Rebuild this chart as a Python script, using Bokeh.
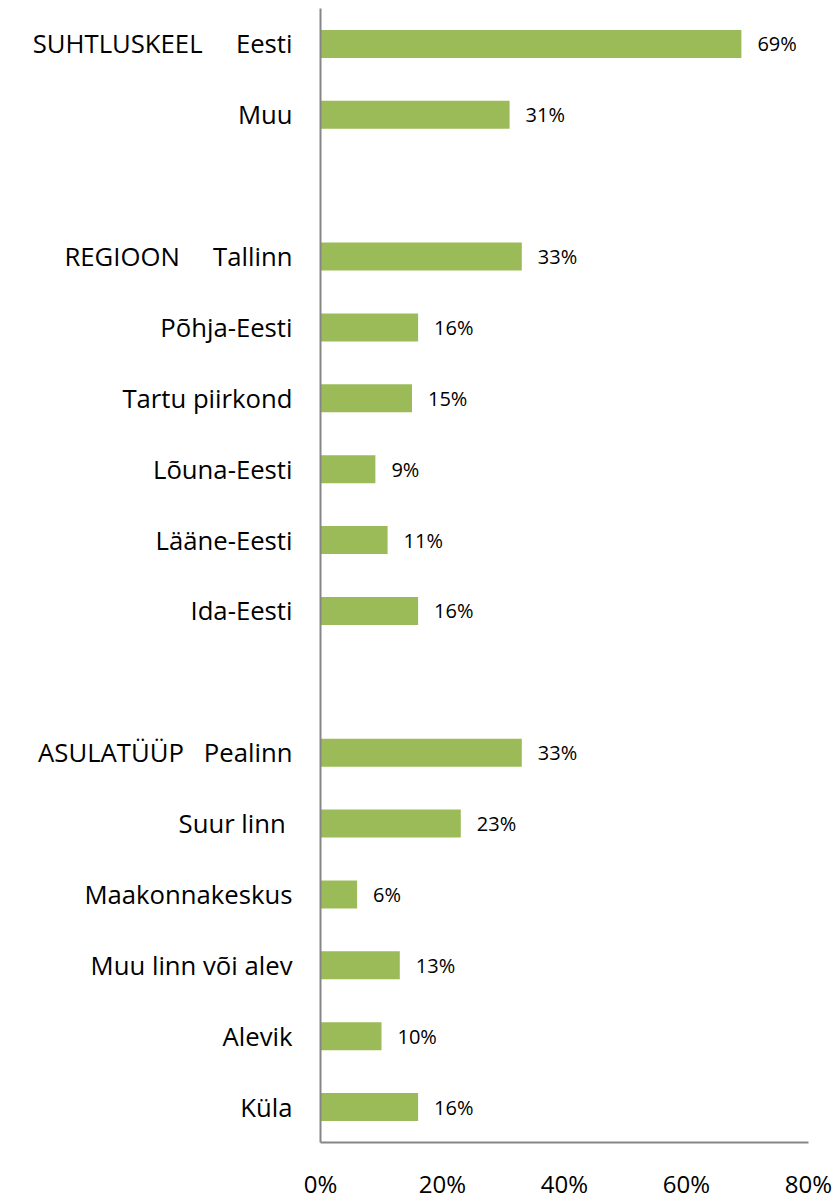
from bokeh.plotting import figure
from bokeh.models import FactorRange, Range1d, FixedTicker, PrintfTickFormatter, ColumnDataSource
from bokeh.core.properties import value
from bokeh.embed import file_html
from bokeh.resources import INLINE

NB = "\u00a0"
# categories (top to bottom), blanks separate groups
categories = [
    "SUHTLUSKEEL" + NB * 5 + "Eesti",
    "Muu",
    "\u200b",
    "REGIOON" + NB * 5 + "Tallinn",
    "Põhja-Eesti",
    "Tartu piirkond",
    "Lõuna-Eesti",
    "Lääne-Eesti",
    "Ida-Eesti",
    "\u200b\u200b",
    "ASULATÜÜP" + NB * 3 + "Pealinn",
    "Suur linn" + NB,
    "Maakonnakeskus",
    "Muu linn või alev",
    "Alevik",
    "Küla",
]
# percentages (None for blank separator rows)
values = [69, 31, None, 33, 16, 15, 9, 11, 16, None, 33, 23, 6, 13, 10, 16]
x_ticks = [0, 20, 40, 60, 80]

bar_cats = [c for c, v in zip(categories, values) if v is not None]
bar_vals = [v for v in values if v is not None]
src = ColumnDataSource(dict(cat=bar_cats, val=bar_vals,
                            lab=[f"{v}%" for v in bar_vals]))

FONT = "Open Sans"
p = figure(
    width=839, height=1202,
    y_range=FactorRange(factors=list(reversed(categories)), range_padding=0),
    x_range=Range1d(0, 80),
    output_backend="svg", toolbar_location=None,
    min_border_left=320, min_border_right=31, min_border_top=8, min_border_bottom=0,
)
p.hbar(y="cat", right="val", left=0, height=0.395, source=src,
       fill_color="#9BBB59", line_color=None)
p.text(x="val", y="cat", text="lab", source=src, x_offset=16,
       text_baseline="middle", text_align="left",
       text_font=value(FONT), text_font_size="20px", text_color="#000000")

p.xgrid.visible = False
p.ygrid.visible = False
p.outline_line_color = None
p.background_fill_color = "white"
p.border_fill_color = "white"

for ax in (p.xaxis[0], p.yaxis[0]):
    ax.axis_line_color = "#868686"
    ax.axis_line_width = 2
    ax.major_tick_line_color = None
    ax.minor_tick_line_color = None
    ax.major_label_text_font = FONT
    ax.major_label_text_color = "#000000"

p.xaxis[0].ticker = FixedTicker(ticks=x_ticks)
p.xaxis[0].formatter = PrintfTickFormatter(format="%d%%")
p.xaxis[0].major_label_text_font_size = "24px"
p.xaxis[0].major_label_standoff = 18
p.yaxis[0].major_label_text_font_size = "25.7px"
p.yaxis[0].major_label_standoff = 22

open("out.html", "w").write(file_html(p, INLINE))
